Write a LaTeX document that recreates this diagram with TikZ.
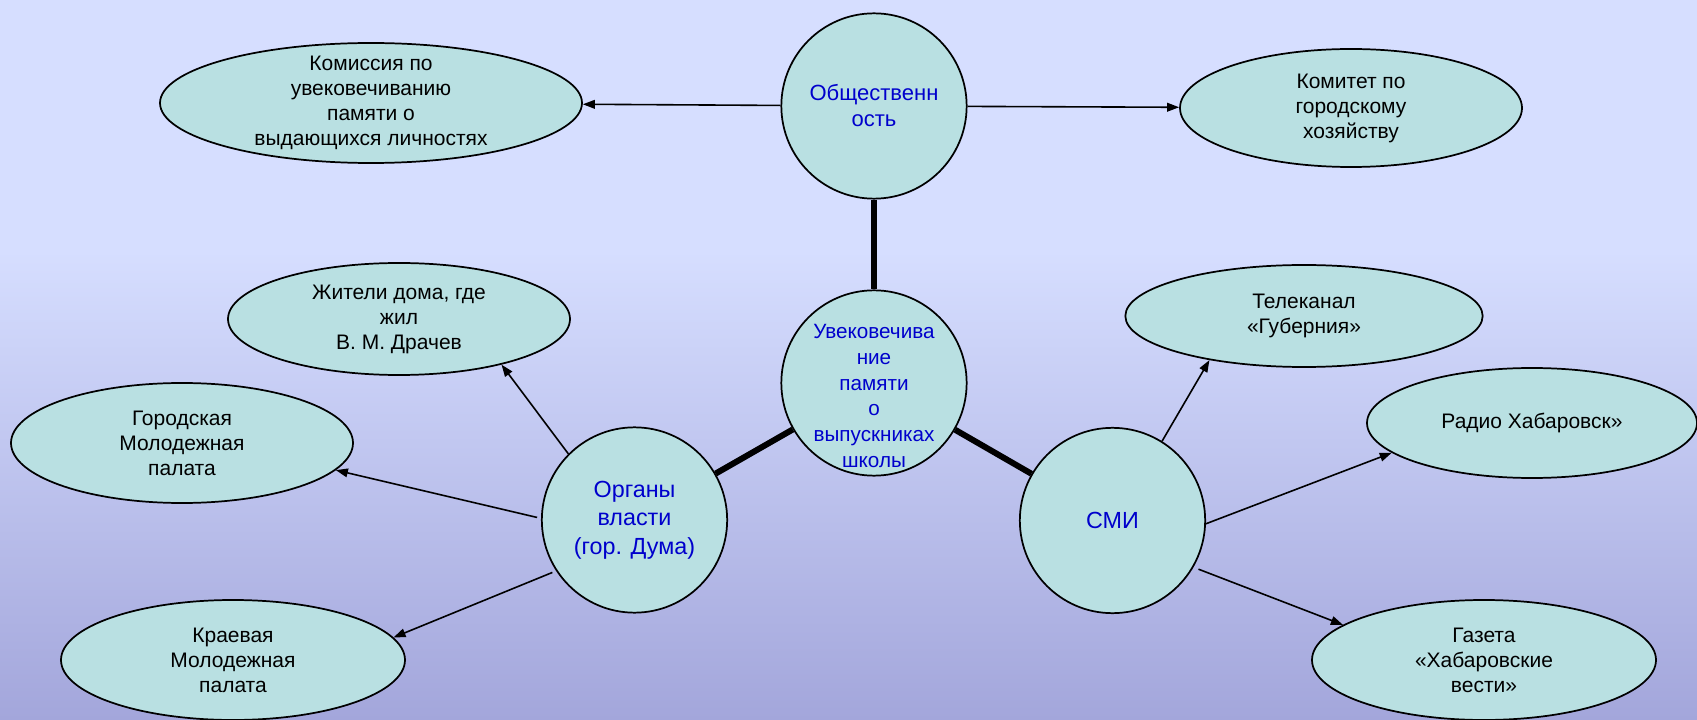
\documentclass[tikz,border=0pt]{standalone}
\usepackage{fontspec}
\setmainfont{Liberation Sans}
\usetikzlibrary{shapes.geometric, arrows.meta}

\definecolor{bgtop}{RGB}{214,222,255}
\definecolor{bgbot}{RGB}{163,166,219}
\definecolor{nodefill}{RGB}{185,224,226}
\definecolor{circtext}{RGB}{0,0,204}

\tikzset{
	circ/.style = {circle, draw, line width = 1.3pt, fill = nodefill, minimum size = 139pt, inner sep = 0pt, text = circtext, align = center},
	oval/.style = {ellipse, draw, line width = 1.3pt, fill = nodefill, inner xsep = 0pt, inner ysep = -6pt, align = center, font = \fontsize{15.75}{18.75}\selectfont},
	ctext/.style = {text = circtext, align = center, inner sep = 0pt},
	link/.style = {line width = 1.2pt, -{Triangle[length = 9pt, width = 6.5pt]}},
	bond/.style = {line width = 4.5pt}
}

\begin{document}
\begin{tikzpicture}[x = 0.75pt, y = -0.75pt]
	\useasboundingbox (0,0) rectangle (1697,720);
	\fill [bgtop] (0,0) rectangle (1697,250);
	\shade [top color = bgtop, bottom color = bgbot] (0,250) rectangle (1697,720);

	% circles
	\node [circ, font = \fontsize{16.5}{19.5}\selectfont] (obs) at (874,106) {Общественн\\ость};
	\node [circ] (mem) at (874,383) {};
	\node [ctext, font = \fontsize{15.5}{19.3}\selectfont] (memtext) at (874,396) {Увековечива\\ние\\памяти\\о\\выпускниках\\школы};
	\node [circ, font = \fontsize{17.5}{21.4}\selectfont] (org) at (634.5,520) {Органы\\власти\\(гор. Дума)};
	\node [circ, font = \fontsize{17.5}{21.4}\selectfont] (smi) at (1112.5,520.5) {СМИ};

	% ellipses
	\node [oval, minimum width = 316.5pt, minimum height = 90pt] (kom) at (371,103) {Комиссия по\\увековечиванию\\памяти о\\выдающихся личностях};
	\node [oval, minimum width = 256.5pt, minimum height = 88.5pt] (komit) at (1351,108) {Комитет по\\городскому\\хозяйству};
	\node [oval, minimum width = 256.5pt, minimum height = 84pt] (zhit) at (399,319) {Жители дома, где\\жил\\В. М. Драчев};
	\node [oval, minimum width = 256.5pt, minimum height = 90pt] (gor) at (182,443) {Городская\\Молодежная\\палата};
	\node [oval, minimum width = 258pt, minimum height = 90pt] (kra) at (233,660) {Краевая\\Молодежная\\палата};
	\node [oval, minimum width = 268pt, minimum height = 76.5pt] (tel) at (1304,316) {Телеканал\\«Губерния»};
	\node [oval, minimum width = 247.5pt, minimum height = 82.5pt] (rad) at (1532,423) {Радио Хабаровск»};
	\node [oval, minimum width = 258pt, minimum height = 90pt] (gaz) at (1484,660) {Газета\\«Хабаровские\\вести»};

	% thick links to the centre
	\draw [bond] (obs) -- (mem);
	\draw [bond] (mem) -- (org);
	\draw [bond] (mem) -- (smi);

	% arrows
	\draw [link] (obs) -- (kom);
	\draw [link] (obs) -- (komit);
	\draw [link] (org.135) -- (zhit.-24);
	\draw [link, shorten <= 3pt] (org.179) -- (gor.-10);
	\draw [link, shorten <= 3pt] (org.213) -- (kra.8);
	\draw [link] (smi.58) -- (tel.205);
	\draw [link] (smi.-2) -- (rad.192);
	\draw [link, shorten <= 4pt] (smi.-30) -- (gaz.166);
\end{tikzpicture}
\end{document}
